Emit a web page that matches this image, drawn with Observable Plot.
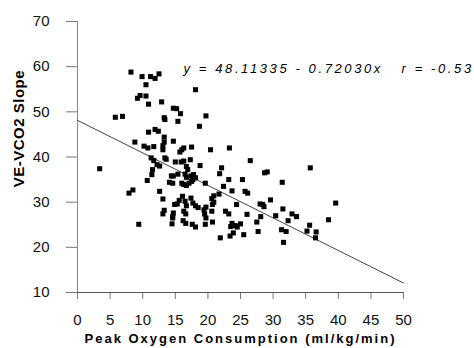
<!DOCTYPE html>
<html>
<head>
<meta charset="utf-8">
<script src="https://cdn.jsdelivr.net/npm/d3@7"></script>
<script src="https://cdn.jsdelivr.net/npm/@observablehq/plot@0.6"></script>
<style>
  html, body { margin: 0; padding: 0; background: #fff; }
  #chart svg { display: block; }
  .annot text { white-space: pre; letter-spacing: 2.6px; }
  .xlab text { letter-spacing: 2px; }
  .ylab text { letter-spacing: 0.5px; }
</style>
</head>
<body>
<div id="chart"></div>
<script>
// Peak oxygen consumption (ml/kg/min)
const oxygen = [
  8.2, 9.9, 11.2, 11.9, 12.5, 10.5, 9.6, 9.2, 10.5, 10.9, 12.9, 14.7, 5.8, 6.9,
  13.3, 13.4, 10.9, 11.9, 12.4, 13.3, 14.7, 13.3, 13.1, 13.1, 8.8, 10.2, 10.8, 11.7,
  11.3, 11.7, 13.4, 13.6, 12.2, 12.6, 15.0, 3.4, 11.5, 11.4, 14.4, 14.7, 14.1, 14.6,
  10.7, 8.5, 7.9, 12.6, 13.1, 14.9, 13.3, 13.1, 14.7, 14.6, 14.6, 9.4, 14.5,
  15.2, 18.1, 15.8, 19.7, 15.4, 18.7,
  16.3, 16.0, 15.7, 17.5, 20.4, 23.3,
  15.9, 16.3, 17.3, 26.5, 16.7, 16.9, 18.8, 22.1,
  15.4, 16.5, 16.7, 17.4, 17.8, 18.1, 21.8,
  16.0, 16.3, 16.7, 17.1, 17.5, 17.7,
  19.6, 23.2, 25.3, 22.4, 23.7, 25.7, 26.1, 21.7,
  16.1, 17.4, 20.9, 20.6, 15.6, 15.3, 16.5, 16.7,
  17.7, 18.1, 18.5, 19.7, 19.4, 19.5, 20.7, 20.9, 24.4,
  16.3, 16.6, 20.6, 22.7, 23.2, 26.0,
  16.2, 16.6, 17.6, 18.1, 19.6, 19.7, 20.7,
  23.7, 24.2, 24.5, 25.0, 23.5, 27.5, 27.7, 25.5, 23.4, 23.9, 21.9,
  28.7, 29.1, 35.7, 31.4, 29.6, 28.0, 28.4, 28.6, 31.5, 39.6, 32.9, 33.6,
  30.4, 28.1, 32.3, 35.6, 38.5, 31.3, 32.0, 35.2, 36.6, 36.5, 31.6
];
// VE-VCO2 slope
const slope = [
  58.8, 57.8, 57.8, 57.4, 58.4, 56.0, 53.6, 53.0, 53.5, 51.7, 52.2, 50.8, 48.8, 49.0,
  48.7, 48.3, 45.5, 46.1, 45.7, 44.4, 43.5, 43.3, 42.5, 41.6, 43.3, 42.4, 42.0, 42.3,
  39.8, 39.2, 39.8, 39.5, 38.3, 38.0, 38.9, 37.4, 37.2, 36.1, 35.8, 35.8, 34.4, 34.2,
  34.8, 32.7, 32.0, 32.4, 30.7, 29.5, 28.2, 27.4, 27.6, 26.8, 26.5, 25.1, 25.2,
  50.7, 54.9, 49.6, 49.1, 47.9, 46.8,
  42.0, 41.6, 41.1, 42.2, 41.6, 42.0,
  38.9, 39.1, 39.4, 39.2, 37.9, 37.2, 38.1, 37.6,
  36.2, 36.2, 35.5, 35.8, 36.1, 35.4, 36.3,
  34.2, 33.9, 33.7, 34.2, 34.6, 35.0,
  34.2, 35.0, 35.0, 33.5, 32.5, 32.4, 32.0, 31.8,
  31.3, 30.9, 31.4, 30.8, 30.4, 29.6, 30.2, 29.2,
  29.8, 29.2, 28.8, 28.9, 28.3, 27.4, 29.5, 30.0, 29.5,
  28.0, 27.4, 28.0, 28.0, 27.4, 27.3,
  25.9, 25.3, 25.1, 24.5, 25.1, 26.5, 25.6,
  25.3, 24.8, 24.5, 25.2, 24.6, 25.6, 23.5, 22.8, 22.5, 23.2, 22.1,
  36.5, 36.7, 37.6, 34.4, 30.5, 29.6, 29.5, 29.0, 28.5, 29.8, 27.4, 26.8,
  27.0, 26.8, 25.9, 24.9, 26.1, 23.9, 23.5, 23.6, 23.4, 22.1, 21.1
];

const xTicks = [0, 5, 10, 15, 20, 25, 30, 35, 40, 45, 50];
const yTicks = [10, 20, 30, 40, 50, 60, 70];
const intercept = 48.11335;
const coef = -0.72030;
const fitRange = [0, 50];
const equationText = "y = 48.11335 - 0.72030x   r = -0.53";
const xTitle = "Peak Oxygen Consumption (ml/kg/min)";
const yTitle = "VE-VCO2 Slope";

const points = oxygen.map((x, i) => ({x, y: slope[i]}));
const fit = fitRange.map(x => ({x, y: intercept + coef * x}));

const chart = Plot.plot({
  width: 474,
  height: 348,
  marginLeft: 77,
  marginRight: 71,
  marginTop: 21,
  marginBottom: 56,
  style: {fontFamily: "Arial, 'Liberation Sans', sans-serif", background: "#fff", color: "#111"},
  x: {domain: [0, 50]},
  y: {domain: [10, 70]},
  marks: [
    Plot.axisX({ticks: xTicks, tickSize: 7, tickPadding: 15, stroke: "#777", fill: "#111", fontSize: 15, label: null}),
    Plot.axisY({ticks: yTicks, tickSize: 11, tickPadding: 17, stroke: "#777", fill: "#111", fontSize: 15, label: null}),
    Plot.ruleX([0], {stroke: "#888"}),
    Plot.ruleY([10], {stroke: "#555"}),
    Plot.line(fit, {x: "x", y: "y", stroke: "#444", strokeWidth: 1}),
    Plot.dot(points, {x: "x", y: "y", symbol: "square", r: 2.85, fill: "#000", stroke: "none"}),
    Plot.text([equationText], {frameAnchor: "top-left", textAnchor: "start", lineAnchor: "bottom", dx: 106, dy: 51, fontSize: 13, fontStyle: "italic", fill: "#000", className: "annot"}),
    Plot.text([xTitle], {frameAnchor: "bottom", dy: 50, fontSize: 13, fontWeight: "bold", fill: "#000", className: "xlab"}),
    Plot.text([yTitle], {frameAnchor: "left", y: () => 33.3, rotate: -90, dx: -58, fontSize: 15, fontWeight: "bold", fill: "#000", className: "ylab"})
  ]
});
document.getElementById("chart").appendChild(chart);
</script>
</body>
</html>
